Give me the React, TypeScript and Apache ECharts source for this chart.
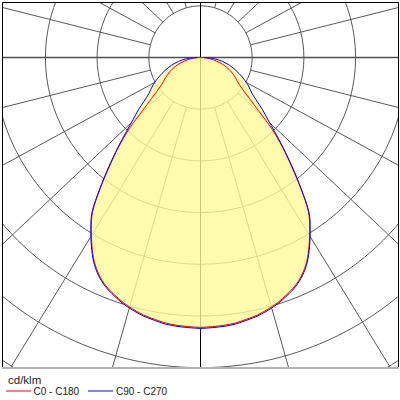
import React, { useEffect, useRef } from "react";
import * as echarts from "echarts";

// gamma angles (deg, 0 = straight down)
const GAMMA = [0, 2.5, 5, 7.5, 10, 12.5, 15, 17.5, 20, 22.5, 25, 27.5, 30, 32.5, 35, 37.5, 40, 42.5, 45, 47.5, 50, 55, 60, 65, 70, 75, 80, 85, 90];
// luminous intensity, cd/klm
const C0_C180 = [522, 521, 520, 518, 514, 510, 504, 497, 488, 478, 464, 445, 420, 393, 364, 318, 273, 234, 195, 152, 124, 92, 78, 66, 53, 39, 25, 12, 0];
const C90_C270 = [524, 523, 522, 520, 516, 512, 506, 499, 490, 480, 466, 447, 422, 395, 366, 320, 276, 237, 203, 176, 156, 122, 106, 89, 73, 58, 43, 27, 6];
// ring ticks (cd/klm)
const RING_STEP = 100;
const RING_MAX = 800;
// spoke angles of the grid (deg from the vertical), mirrored into all quadrants
const SPOKES = [15.86, 31.48, 46.68, 61.43, 75.82];
const LEGEND = ["C0 - C180", "C90 - C270"];
const UNIT = "cd/klm";

const FONT = "'Liberation Sans', Arial, sans-serif";

function curve(vals: number[]) {
  const left = GAMMA.map((g, i) => [vals[i], g]).reverse();
  const right = GAMMA.slice(1).map((g, i) => [vals[i + 1], 360 - g]);
  return [...left, ...right];
}

export default function App() {
  const ref = useRef<HTMLDivElement>(null);
  useEffect(() => {
    if (!ref.current) return;
    const chart = echarts.init(ref.current, undefined, { renderer: "svg" });
    const spokeAngles: number[] = [];
    SPOKES.forEach((a) => spokeAngles.push(a, 180 - a, 180 + a, 360 - a));
    const gridSeries: any[] = spokeAngles.map((a) => ({
      type: "line",
      coordinateSystem: "polar",
      data: [[RING_STEP, a], [RING_MAX, a]],
      symbol: "none",
      silent: true,
      clip: false,
      z: 1,
      lineStyle: { color: "#5a5a5a", width: 1 },
    }));
    gridSeries.push({
      type: "line",
      coordinateSystem: "polar",
      data: [[RING_MAX, 90], [RING_MAX, 270]],
      symbol: "none",
      silent: true,
      clip: false,
      z: 1,
      lineStyle: { color: "#505050", width: 1.6 },
    });
    gridSeries.push({
      type: "line",
      coordinateSystem: "polar",
      data: [[RING_MAX, 0], [RING_MAX, 180]],
      symbol: "none",
      silent: true,
      clip: false,
      z: 1,
      lineStyle: { color: "#000", width: 1 },
    });
    const red = curve(C0_C180);
    const blue = curve(C90_C270);
    chart.setOption({
      animation: false,
      polar: { center: [200.5, 57.5], radius: 413.6 },
      radiusAxis: {
        type: "value",
        min: 0,
        max: RING_MAX,
        interval: RING_STEP,
        axisLine: { show: false },
        axisTick: { show: false },
        axisLabel: { show: false },
        splitLine: { show: true, lineStyle: { color: "#5a5a5a", width: 1 } },
      },
      angleAxis: {
        type: "value",
        min: 0,
        max: 360,
        startAngle: 270,
        clockwise: true,
        axisLine: { show: false },
        axisTick: { show: false },
        axisLabel: { show: false },
        splitLine: { show: false },
      },
      series: [
        ...gridSeries,
        {
          type: "line",
          coordinateSystem: "polar",
          data: blue,
          symbol: "none",
          smooth: 0.3,
          silent: true,
          z: 2,
          lineStyle: { width: 0, opacity: 0 },
          areaStyle: { color: "#fffa9a", opacity: 0.8 },
        },
        {
          name: LEGEND[0],
          type: "line",
          coordinateSystem: "polar",
          data: red,
          symbol: "none",
          smooth: 0.3,
          z: 3,
          lineStyle: { color: "#ff0000", width: 1 },
        },
        {
          name: LEGEND[1],
          type: "line",
          coordinateSystem: "polar",
          data: blue,
          symbol: "none",
          smooth: 0.3,
          z: 4,
          lineStyle: { color: "#0000ff", width: 1 },
        },
      ],
      graphic: {
        elements: [
          { type: "rect", z: 100, shape: { x: 0, y: 0, width: 400, height: 2.5 }, style: { fill: "#fff" } },
          { type: "rect", z: 100, shape: { x: 0, y: 0, width: 2.5, height: 400 }, style: { fill: "#fff" } },
          { type: "rect", z: 100, shape: { x: 398.5, y: 0, width: 2, height: 400 }, style: { fill: "#fff" } },
          { type: "rect", z: 100, shape: { x: 0, y: 368, width: 400, height: 32 }, style: { fill: "#fff" } },
          { type: "polyline", z: 101, shape: { points: [[2.5, 368], [2.5, 2.5], [398.5, 2.5], [398.5, 368]] }, style: { stroke: "#000", lineWidth: 1, fill: null } },
          { type: "line", z: 101, shape: { x1: 2, y1: 368, x2: 399, y2: 368 }, style: { stroke: "#b4b4b4", lineWidth: 2 } },
          { type: "text", z: 101, x: 8, y: 379.5, style: { text: UNIT, fontSize: 11.5, fontFamily: FONT, fill: "#222", verticalAlign: "middle" } },
          { type: "line", z: 101, shape: { x1: 6, y1: 391, x2: 31, y2: 391 }, style: { stroke: "#ff0000", lineWidth: 1 } },
          { type: "text", z: 101, x: 33.5, y: 391.5, style: { text: LEGEND[0], fontSize: 10, fontFamily: FONT, fill: "#222", verticalAlign: "middle" } },
          { type: "line", z: 101, shape: { x1: 88, y1: 391, x2: 113, y2: 391 }, style: { stroke: "#0000ff", lineWidth: 1 } },
          { type: "text", z: 101, x: 116, y: 391.5, style: { text: LEGEND[1], fontSize: 10, fontFamily: FONT, fill: "#222", verticalAlign: "middle" } },
        ],
      },
    });
    return () => chart.dispose();
  }, []);
  return (
    <div
      ref={ref}
      style={{ position: "fixed", left: 0, top: 0, width: 400, height: 400, background: "#fff" }}
    />
  );
}
